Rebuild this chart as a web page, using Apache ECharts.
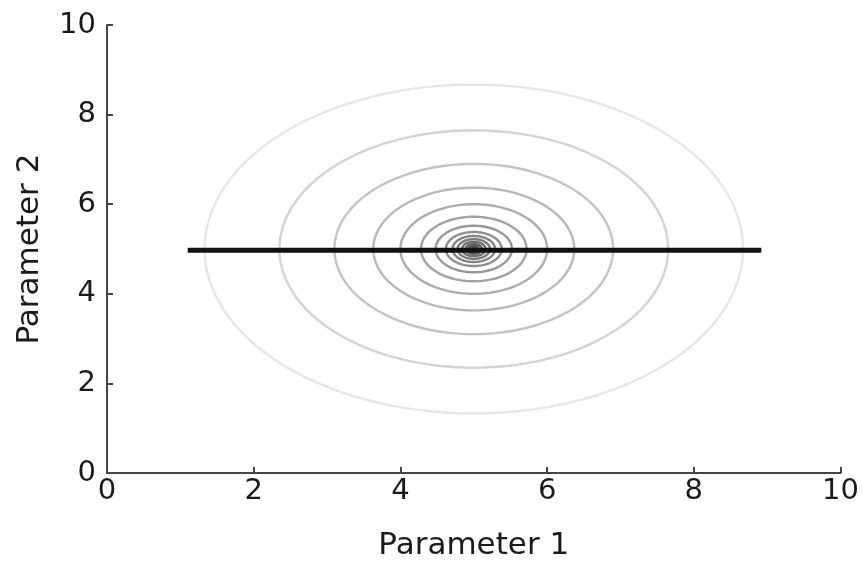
<!DOCTYPE html>
<html>
<head>
<meta charset="utf-8">
<script src="https://cdn.jsdelivr.net/npm/echarts@6/dist/echarts.min.js"></script>
<style>html,body{margin:0;padding:0;background:#fff;}#c{width:862px;height:566px;}</style>
</head>
<body>
<div id="c"></div>
<script>
// ---- data ----
var xTicks = [0, 2, 4, 6, 8, 10];
var yTicks = [0, 2, 4, 6, 8, 10];
var centerX = 5;
var centerY = 5;
var contourRadii = [3.67, 2.65, 1.9, 1.37, 1.0, 0.72, 0.52, 0.38, 0.29, 0.22, 0.16, 0.11, 0.07, 0.04];
var lineX = [1.1, 8.92];
var lineY = [4.97, 4.97];

// ---- styles ----
var contourColors = ['#e6e6e6', '#d3d3d3', '#c4c4c4', '#b8b8b8', '#acacac', '#a2a2a2', '#989898', '#8e8e8e', '#848484', '#7a7a7a', '#707070', '#666666', '#5c5c5c', '#505050'];
var FONT = 'DejaVu Sans';

var contourData = contourRadii.map(function (r, i) { return [centerX, centerY, r, i]; });
var lineData = lineX.map(function (x, i) { return [x, lineY[i]]; });

var chart = echarts.init(document.getElementById('c'));
chart.setOption({
  animation: false,
  backgroundColor: '#fff',
  grid: { left: 107, right: 19, top: 25, bottom: 93 },
  xAxis: {
    type: 'value', min: xTicks[0], max: xTicks[xTicks.length - 1], interval: 2,
    name: 'Parameter 1', nameLocation: 'middle', nameGap: 57,
    nameTextStyle: { fontFamily: FONT, fontSize: 31, color: '#1a1a1a' },
    axisLine: { show: true, lineStyle: { color: '#444', width: 2 } },
    axisTick: { show: true, inside: true, length: 6, lineStyle: { color: '#444', width: 2 } },
    axisLabel: { fontFamily: FONT, fontSize: 29, color: '#1a1a1a', margin: 4 },
    splitLine: { show: false }
  },
  yAxis: {
    type: 'value', min: yTicks[0], max: yTicks[yTicks.length - 1], interval: 2,
    name: 'Parameter 2', nameLocation: 'middle', nameGap: 62,
    nameTextStyle: { fontFamily: FONT, fontSize: 31, color: '#1a1a1a' },
    axisLine: { show: true, lineStyle: { color: '#444', width: 2 } },
    axisTick: { show: true, inside: true, length: 6, lineStyle: { color: '#444', width: 2 } },
    axisLabel: { fontFamily: FONT, fontSize: 29, color: '#1a1a1a', margin: 11 },
    splitLine: { show: false }
  },
  series: [
    {
      type: 'custom',
      data: contourData,
      silent: true,
      renderItem: function (params, api) {
        var cx = api.value(0), cy = api.value(1), r = api.value(2), idx = api.value(3);
        var pts = [];
        var N = 120;
        for (var k = 0; k < N; k++) {
          var t = 2 * Math.PI * k / N;
          pts.push(api.coord([cx + r * Math.cos(t), cy + r * Math.sin(t)]));
        }
        return {
          type: 'polygon',
          shape: { points: pts },
          style: { fill: 'none', stroke: contourColors[idx], lineWidth: 2.4 }
        };
      },
      z: 1
    },
    {
      type: 'line',
      data: lineData,
      symbol: 'none',
      lineStyle: { color: '#111', width: 5 },
      z: 3
    }
  ]
});
</script>
</body>
</html>
